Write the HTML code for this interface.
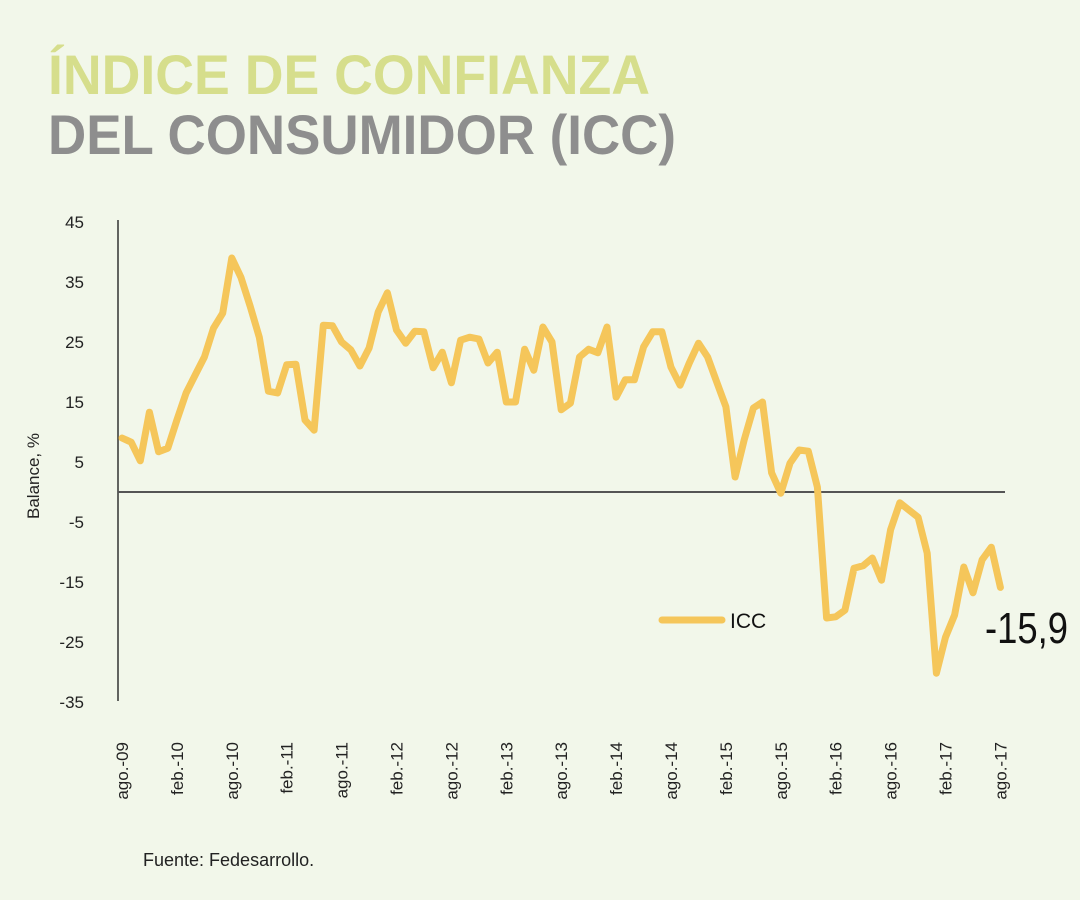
<!DOCTYPE html>
<html><head><meta charset="utf-8"><style>
html,body{margin:0;padding:0;background:#f2f7ea;}
svg{display:block;font-family:"Liberation Sans",sans-serif;}
</style></head><body>
<svg width="1080" height="900" viewBox="0 0 1080 900">
<rect x="0" y="0" width="1080" height="900" fill="#f2f7ea"/>
<text x="48" y="94" font-size="56" font-weight="bold" fill="#d6de8c" textLength="602" lengthAdjust="spacingAndGlyphs">ÍNDICE DE CONFIANZA</text>
<text x="48" y="154" font-size="56" font-weight="bold" fill="#8e8e8e" textLength="628" lengthAdjust="spacingAndGlyphs">DEL CONSUMIDOR (ICC)</text>
<text transform="translate(39,476) rotate(-90)" text-anchor="middle" font-size="17" fill="#222">Balance, %</text>
<g id="yticks"></g>
<g id="xticks"></g>
<line x1="118" y1="220" x2="118" y2="701" stroke="#333" stroke-width="1.5"/>
<line id="zero" x1="118" x2="1005" stroke="#555" stroke-width="2"/>
<path id="line" fill="none" stroke="#f5c65a" stroke-width="7" stroke-linejoin="round" stroke-linecap="round"/>
<line x1="662" y1="620" x2="722" y2="620" stroke="#f5c65a" stroke-width="7" stroke-linecap="round"/>
<text x="730" y="628" font-size="21" fill="#111">ICC</text>
<text id="lastlbl" x="985" y="643" font-size="44" fill="#111" textLength="83" lengthAdjust="spacingAndGlyphs">-15,9</text>
<text x="143" y="866" font-size="18" fill="#222">Fuente: Fedesarrollo.</text>
</svg>
<script>
const values=[9,8.3,5.2,13.3,6.7,7.3,12,16.5,19.5,22.5,27.3,29.8,39,35.8,31,25.8,16.8,16.5,21.2,21.3,12,10.3,27.8,27.7,25,23.7,21,24,30,33.2,27,24.8,26.8,26.7,20.7,23.3,18.2,25.3,25.8,25.5,21.5,23.3,15,15,23.8,20.3,27.5,25,13.7,14.8,22.5,23.8,23.2,27.5,15.8,18.7,18.7,24.2,26.7,26.7,20.8,17.8,21.5,24.8,22.5,18.3,14.2,2.5,8.7,14,15,3.2,-0.2,4.8,7,6.8,0.8,-21,-20.8,-19.7,-12.7,-12.3,-11,-14.7,-6.3,-1.8,-3,-4.2,-10.2,-30.2,-24.2,-20.5,-12.5,-16.8,-11.3,-9.2,-15.9];
const yTicks=[45,35,25,15,5,-5,-15,-25,-35];
const xLabels=["ago.-09","feb.-10","ago.-10","feb.-11","ago.-11","feb.-12","ago.-12","feb.-13","ago.-13","feb.-14","ago.-14","feb.-15","ago.-15","feb.-16","ago.-16","feb.-17","ago.-17"];
const NS="http://www.w3.org/2000/svg";
function y(v){return 492-(v)*6;}
function x(i){return 122+i*9.15;}
document.getElementById('zero').setAttribute('y1',y(0));
document.getElementById('zero').setAttribute('y2',y(0));
const yg=document.getElementById('yticks');
yTicks.forEach(t=>{const e=document.createElementNS(NS,'text');
e.setAttribute('x',84);e.setAttribute('y',y(t)+6);e.setAttribute('text-anchor','end');
e.setAttribute('font-size','17');e.setAttribute('fill','#222');e.textContent=t;


yg.appendChild(e);});
const xg=document.getElementById('xticks');
xLabels.forEach((l,k)=>{const e=document.createElementNS(NS,'text');
const px=x(k*6)+6;
e.setAttribute('transform','translate('+px+',742) rotate(-90)');
e.setAttribute('text-anchor','end');e.setAttribute('font-size','17');e.setAttribute('fill','#222');
e.textContent=l;


xg.appendChild(e);});
let d='';values.forEach((v,i)=>{d+=(i?'L':'M')+x(i).toFixed(1)+','+y(v).toFixed(1);});
document.getElementById('line').setAttribute('d',d);
</script>
</body></html>
